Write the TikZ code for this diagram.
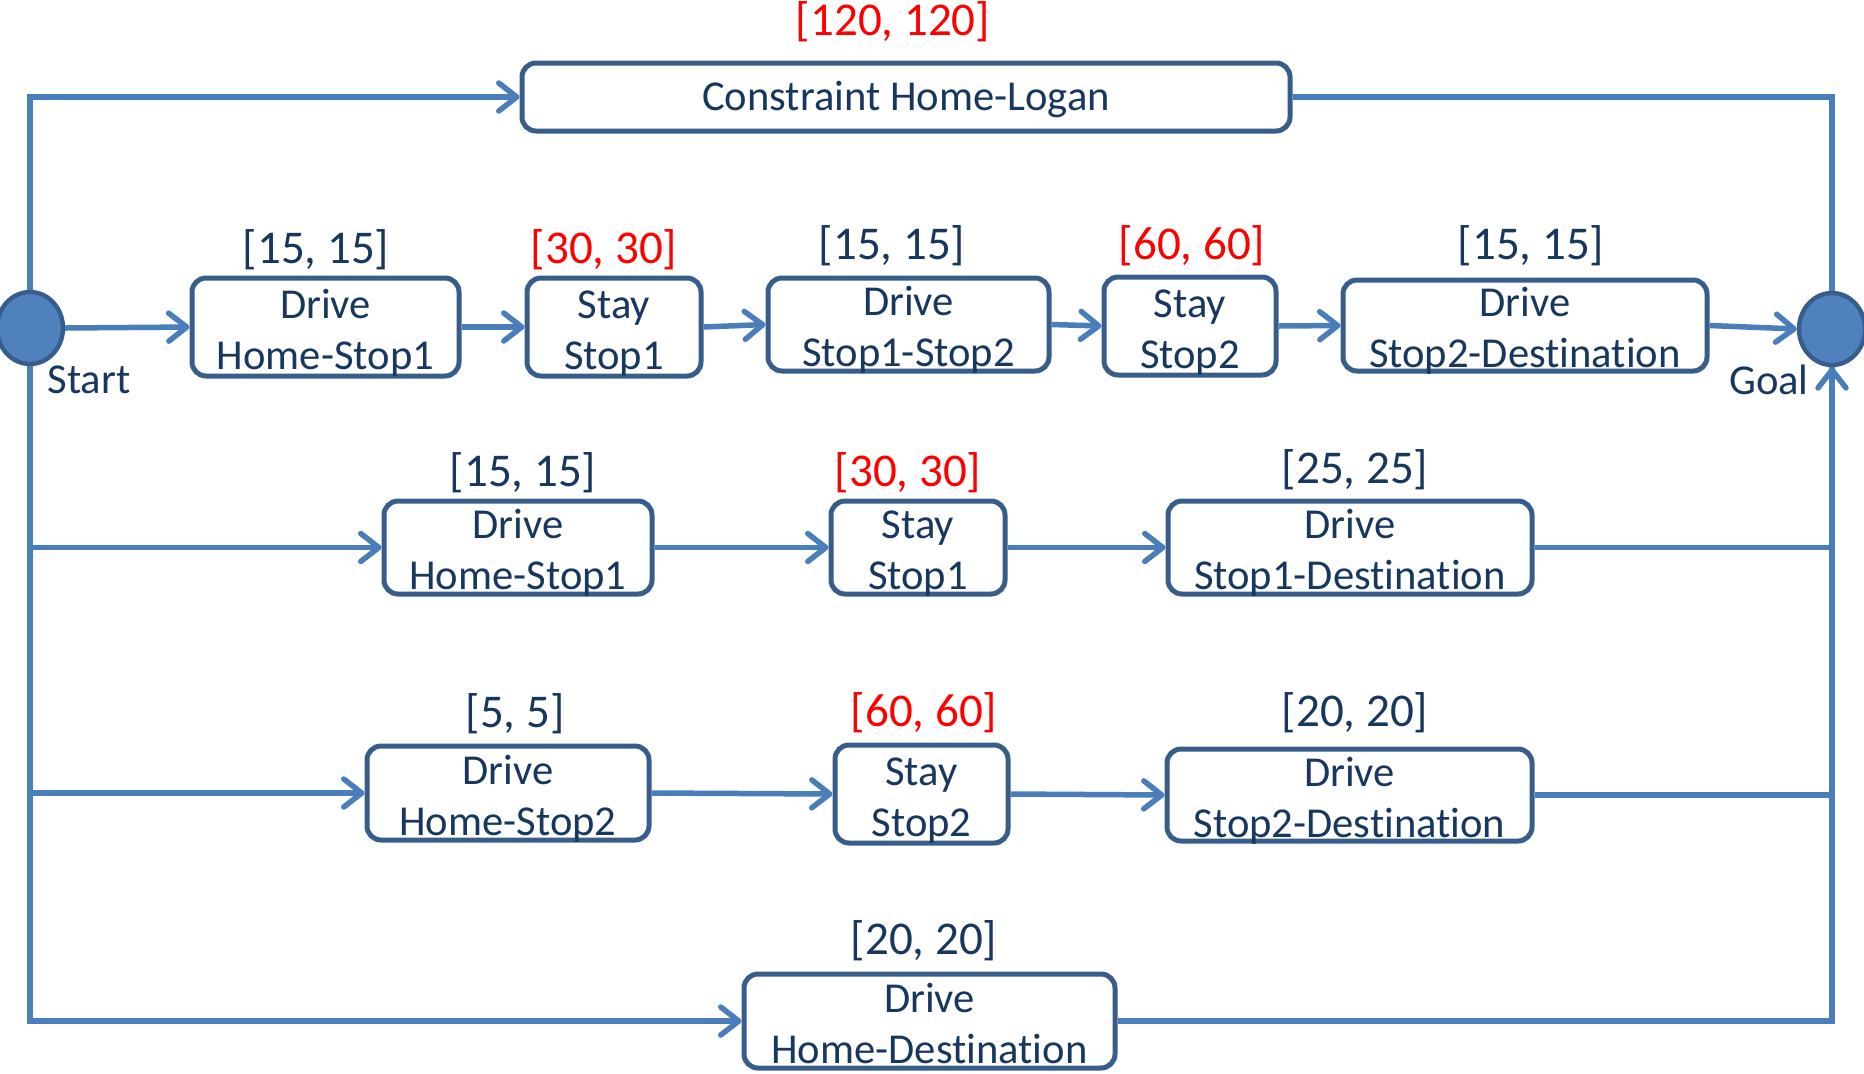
\documentclass[tikz,border=0pt]{standalone}
\usepackage{fontspec}
\setmainfont{Carlito}[Ligatures={NoCommon}]
\usetikzlibrary{arrows.meta,shapes.geometric}
\definecolor{lineblue}{RGB}{74,126,187}
\definecolor{boxborder}{RGB}{56,93,138}
\definecolor{textnavy}{RGB}{23,55,94}
\definecolor{circfill}{RGB}{79,129,189}
\newcommand\twoline[2]{\raisebox{4.5pt}[0pt][0pt]{\begin{tabular}[t]{@{}c@{}}#1\\#2\end{tabular}}}
\begin{document}
\begin{tikzpicture}[x=0.5pt,y=-0.5pt,
 box/.style={draw=boxborder,line width=2.5pt,rounded corners=7pt,fill=white,text=textnavy,inner sep=0pt,font=\fontsize{21.3}{25.5}\selectfont},
 lab/.style={text=textnavy,inner sep=0pt,font=\fontsize{23.5}{27}\selectfont},
 redlab/.style={lab,text=red},
 conn/.style={draw=lineblue,line width=2.75pt},
 arr/.style={conn,-{Straight Barb[length=9pt,width=14pt,round]}},
 term/.style={ellipse,draw=boxborder,line width=2.2pt,fill=circfill,inner sep=0pt,minimum width=33pt,minimum height=36pt},
 termlab/.style={text=textnavy,inner sep=0pt,font=\fontsize{21.3}{25.5}\selectfont}]
\useasboundingbox (0,0) rectangle (1864,1073);

% boxes
\node[box,minimum width=384pt,minimum height=34pt,text height=13.5pt,text depth=0pt] (top) at (906,97) {Constraint Home-Logan};

\node[box,minimum width=133.5pt,minimum height=49pt] (r1a) at (325.5,327) {\twoline{Drive}{Home-Stop1}};
\node[box,minimum width=87pt,minimum height=49pt] (r1b) at (614,327) {\twoline{Stay}{Stop1}};
\node[box,minimum width=140.5pt,minimum height=46.5pt] (r1c) at (908.5,324.5) {\twoline{Drive}{Stop1-Stop2}};
\node[box,minimum width=86pt,minimum height=49pt] (r1d) at (1190,326) {\twoline{Stay}{Stop2}};
\node[box,minimum width=182pt,minimum height=45.5pt] (r1e) at (1525,325.5) {\twoline{Drive}{Stop2-Destination}};

\node[box,minimum width=134pt,minimum height=46.5pt] (r2a) at (518,547.5) {\twoline{Drive}{Home-Stop1}};
\node[box,minimum width=87pt,minimum height=46.5pt] (r2b) at (918,547.5) {\twoline{Stay}{Stop1}};
\node[box,minimum width=182pt,minimum height=46.5pt] (r2c) at (1350,547.5) {\twoline{Drive}{Stop1-Destination}};

\node[box,minimum width=141pt,minimum height=47pt] (r3a) at (508,793) {\twoline{Drive}{Home-Stop2}};
\node[box,minimum width=86.5pt,minimum height=49pt] (r3b) at (921.5,794) {\twoline{Stay}{Stop2}};
\node[box,minimum width=182.5pt,minimum height=46pt] (r3c) at (1349.5,795) {\twoline{Drive}{Stop2-Destination}};

\node[box,minimum width=185.5pt,minimum height=47pt] (r4) at (929.5,1021) {\twoline{Drive}{Home-Destination}};

% terminals
\node[term] (start) at (30,328) {};
\node[term] (goal) at (1832,329) {};
\node[termlab] (startlab) at (89,380) {Start};
\node[termlab] (goallab) at (1769,380) {Goal};

% labels
\node[redlab] (l0) at (893,22) {[120, 120]};
\node[lab] (l1a) at (316,250) {[15, 15]};
\node[redlab] (l1b) at (604,250) {[30, 30]};
\node[lab] (l1c) at (892,246) {[15, 15]};
\node[redlab] (l1d) at (1192,246) {[60, 60]};
\node[lab] (l1e) at (1531,246) {[15, 15]};
\node[lab] (l2a) at (523,473) {[15, 15]};
\node[redlab] (l2b) at (908,473) {[30, 30]};
\node[lab] (l2c) at (1355,470) {[25, 25]};
\node[lab] (l3a) at (515,714) {[5, 5]};
\node[redlab] (l3b) at (924,713) {[60, 60]};
\node[lab] (l3c) at (1355,713) {[20, 20]};
\node[lab] (l4) at (924,941) {[20, 20]};

% connectors
\draw[arr] (start.north) |- (top.west);
\draw[conn] (top.east) -| (goal.north);

\draw[arr] (start.east) -- (r1a.west);
\draw[arr] (r1a.east) -- (r1b.west);
\draw[arr] (r1b.east) -- (r1c.west);
\draw[arr] (r1c.east) -- (r1d.west);
\draw[arr] (r1d.east) -- (r1e.west);
\draw[arr] (r1e.east) -- (goal.west);

\draw[arr] (start.south) |- (r2a.west);
\draw[arr] (r2a.east) -- (r2b.west);
\draw[arr] (r2b.east) -- (r2c.west);
\draw[conn] (r2c.east) -| (goal.south);

\draw[arr] (start.south) |- (r3a.west);
\draw[arr] (r3a.east) -- (r3b.west);
\draw[arr] (r3b.east) -- (r3c.west);
\draw[conn] (r3c.east) -| (goal.south);

\draw[arr] (start.south) |- (r4.west);
\draw[arr] (r4.east) -| (goal.south);
\end{tikzpicture}
\end{document}
